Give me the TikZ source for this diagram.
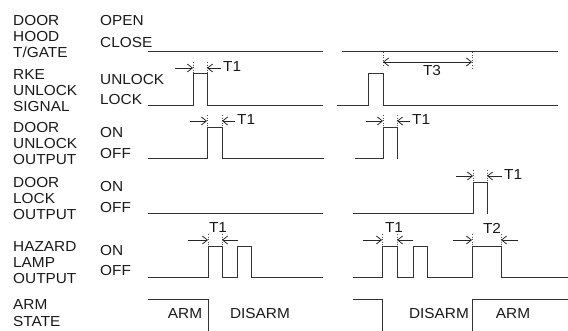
\documentclass[tikz,border=0pt]{standalone}
\usepackage{fontspec}
\setmainfont{Liberation Sans}[FakeStretch=1.06]
\usetikzlibrary{arrows.meta}

\begin{document}
\begin{tikzpicture}[
  x=1pt, y=-1pt,
  lbl/.style={anchor=north west, inner sep=0pt, align=left, text=black!90, font=\fontsize{14.5}{16}\selectfont},
  tag/.style={inner sep=0pt, text=black!90, font=\fontsize{14.5}{16}\selectfont},
  wave/.style={line width=1pt, black!80},
  dim/.style={-{Straight Barb[length=5pt,width=8pt]}, line width=0.75pt, black!85},
  tick/.style={dotted, line width=0.6pt, black!70}
]
\useasboundingbox (0,0) rectangle (568,331);

% signal names
\node[lbl] (doorhood) at (13,15) {DOOR\\HOOD\\T/GATE};
\node[lbl] (rke) at (13,69) {RKE\\UNLOCK\\SIGNAL};
\node[lbl] (unlockout) at (13,122) {DOOR\\UNLOCK\\OUTPUT};
\node[lbl] (lockout) at (13,177) {DOOR\\LOCK\\OUTPUT};
\node[lbl] (hazard) at (13,241) {HAZARD\\LAMP\\OUTPUT};
\node[lbl] (arm) at (13,299) {ARM\\[1pt]STATE};

% levels
\node[lbl] (open) at (100,15) {OPEN};
\node[lbl] (close) at (100,37) {CLOSE};
\node[lbl] (unlock) at (100,74) {UNLOCK};
\node[lbl] (lock) at (100,94) {LOCK};
\node[lbl] (uon) at (100,127) {ON};
\node[lbl] (uoff) at (100,148) {OFF};
\node[lbl] (lon) at (100,181) {ON};
\node[lbl] (loff) at (100,202) {OFF};
\node[lbl] (hon) at (100,245) {ON};
\node[lbl] (hoff) at (100,265) {OFF};

% door / hood / tailgate
\draw[wave] (148,52) -- (323,52);
\draw[wave] (342,52) -- (558,52);

% rke unlock signal
\draw[wave] (148,105.5) -- (193,105.5) -- (193,74) -- (207,74) -- (207,105.5) -- (323,105.5);
\draw[wave] (337,105.5) -- (368,105.5) -- (368,74) -- (383,74) -- (383,105.5) -- (558,105.5);

% door unlock output
\draw[wave] (148,159) -- (207,159) -- (207,128) -- (222,128) -- (222,159) -- (324,159);
\draw[wave] (355,159) -- (383,159) -- (383,128) -- (397,128) -- (397,159);

% door lock output
\draw[wave] (148,214) -- (323,214);
\draw[wave] (353,214) -- (473,214) -- (473,183) -- (487,183) -- (487,214);

% hazard lamp output
\draw[wave] (148,278) -- (208,278) -- (208,247) -- (222,247) -- (222,278) -- (237,278)
  -- (237,247) -- (251,247) -- (251,278) -- (323,278);
\draw[wave] (353,278) -- (382,278) -- (382,247) -- (397,247) -- (397,278) -- (413,278)
  -- (413,247) -- (427,247) -- (427,278) -- (472,278) -- (472,247) -- (501,247)
  -- (501,278) -- (568,278);

% arm state
\draw[wave] (148,300) -- (208,300) -- (208,331);
\draw[wave] (353,300) -- (382,300) -- (382,331);
\draw[wave] (472,331) -- (472,300) -- (568,300);
\node[tag] (arm1) at (185,314) {ARM};
\node[tag] (disarm1) at (260,314) {DISARM};
\node[tag] (disarm2) at (439,314) {DISARM};
\node[tag] (arm2) at (513,314) {ARM};

% timing marks
\draw[tick] (193,62) -- (193,74);
\draw[tick] (207,62) -- (207,74);
\draw[dim] (175,68) -- (193,68);
\draw[dim] (221,68) -- (207,68);
\node[tag, anchor=west] (t1a) at (223,67) {T1};

\draw[tick] (207,115) -- (207,128);
\draw[tick] (222,115) -- (222,128);
\draw[dim] (190,121) -- (207,121);
\draw[dim] (235,121) -- (222,121);
\node[tag, anchor=west] (t1b) at (237,120) {T1};

\draw[tick] (383,115) -- (383,128);
\draw[tick] (397,115) -- (397,128);
\draw[dim] (366,121) -- (383,121);
\draw[dim] (410,121) -- (397,121);
\node[tag, anchor=west] (t1c) at (412,120) {T1};

\draw[tick] (473,170) -- (473,183);
\draw[tick] (487,170) -- (487,183);
\draw[dim] (456,176) -- (473,176);
\draw[dim] (502,176) -- (487,176);
\node[tag, anchor=west] (t1d) at (504,175) {T1};

\draw[tick] (208,234) -- (208,247);
\draw[tick] (222,234) -- (222,247);
\draw[dim] (188,240) -- (208,240);
\draw[dim] (238,240) -- (222,240);
\node[tag] (t1e) at (218,228) {T1};

\draw[tick] (382,234) -- (382,247);
\draw[tick] (397,234) -- (397,247);
\draw[dim] (363,240) -- (382,240);
\draw[dim] (413,240) -- (397,240);
\node[tag] (t1f) at (394,228) {T1};

\draw[tick] (472,234) -- (472,247);
\draw[tick] (501,234) -- (501,247);
\draw[dim] (453,240) -- (472,240);
\draw[dim] (518,240) -- (501,240);
\node[tag] (t2) at (492,228) {T2};

\draw[tick] (383,52) -- (383,66);
\draw[tick] (472,52) -- (472,68);
\draw[dim, {Straight Barb[length=5pt,width=8pt]}-{Straight Barb[length=5pt,width=8pt]}] (383,62) -- (472,62);
\node[tag] (t3) at (432,71) {T3};
\end{tikzpicture}
\end{document}
